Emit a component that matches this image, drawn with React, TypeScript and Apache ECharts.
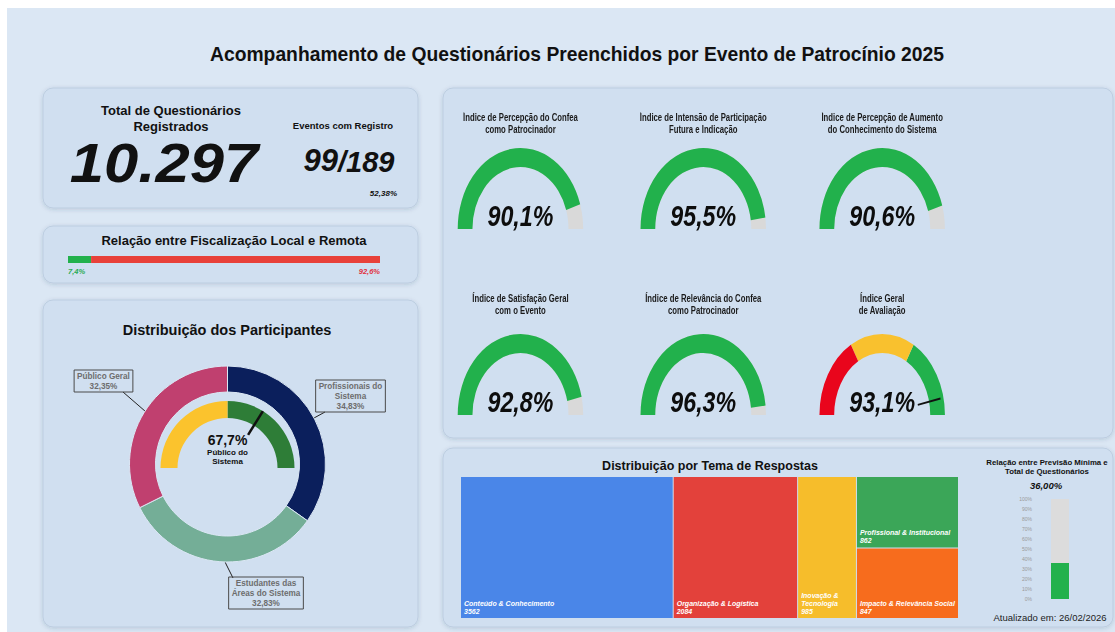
import React, { useEffect, useRef } from 'react';
import * as echarts from 'echarts';

// ---------------- DATA ----------------
const totalQuestionarios = 10297;
const eventosComRegistro = 99;
const eventosTotal = 189;

const fiscalizacaoNomes = ['Local', 'Remota'];
const fiscalizacaoValores = [7.4, 92.6];

const participantesNomes = ['Profissionais do Sistema', 'Estudantes das Áreas do Sistema', 'Público Geral'];
const participantesValores = [34.83, 32.83, 32.35];
const publicoSistemaNome = 'Público do\nSistema';
const publicoSistemaValor = 67.7;

const indicesNomes = [
  'Índice de Percepção do Confea\ncomo Patrocinador',
  'Índice de Intensão de Participação\nFutura e Indicação',
  'Índice de Percepção de Aumento\ndo Conhecimento do Sistema',
  'Índice de Satisfação Geral\ncom o Evento',
  'Índice de Relevância do Confea\ncomo Patrocinador',
  'Índice Geral\nde Avaliação',
];
const indicesValores = [90.1, 95.5, 90.6, 92.8, 96.3, 93.1];

const temasNomes = [
  'Conteúdo & Conhecimento',
  'Organização & Logística',
  'Inovação & Tecnologia',
  'Profissional & Institucional',
  'Impacto & Relevância Social',
];
const temasValores = [3562, 2084, 985, 862, 847];

const previsaoCategorias = ['Previsão Mínima'];
const previsaoValores = [0.36];
const atualizadoEm = '26/02/2026';

// ---------------- STYLE ----------------
const FONT = 'Liberation Sans, Arial, Helvetica, sans-serif';
const GREEN = '#22b14c';
const GRAY = '#d9d9d9';
const participantesCores = ['#0b1f5c', '#74ae97', '#c0406f'];
const temasCores = ['#4a86e8', '#e3413b', '#f6bd2b', '#3ba658', '#f76c1d'];

function fmtPct(v: number, d: number) {
  return v.toFixed(d).replace('.', ',') + '%';
}
function fmtMilhar(n: number) {
  return String(n).replace(/\B(?=(\d{3})+(?!\d))/g, '.');
}
function wrapName(name: string, max: number) {
  const words = name.split(' ');
  const lines: string[] = [];
  let cur = '';
  for (const w of words) {
    if (cur && (cur + ' ' + w).length > max) {
      lines.push(cur);
      cur = w;
    } else cur = cur ? cur + ' ' + w : w;
  }
  if (cur) lines.push(cur);
  return lines.join('\n');
}

const panel = (x: number, y: number, w: number, h: number) => ({
  type: 'rect',
  shape: { x, y, width: w, height: h, r: 10 },
  style: {
    fill: '#d0dff0',
    stroke: '#bccde1',
    lineWidth: 1,
    shadowBlur: 4,
    shadowColor: 'rgba(40,60,90,0.18)',
    shadowOffsetY: 1,
  },
});

const txt = (
  x: number,
  y: number,
  text: string,
  size: number,
  o: { weight?: string; italic?: boolean; color?: string; align?: string; lh?: number; sx?: number } = {}
) => ({
  type: 'text',
  x,
  y,
  scaleX: o.sx ?? 1,
  style: {
    text,
    fontSize: size,
    fontFamily: FONT,
    fontWeight: o.weight ?? 'bold',
    fontStyle: o.italic ? 'italic' : 'normal',
    fill: o.color ?? '#111',
    align: o.align ?? 'center',
    verticalAlign: 'middle',
    lineHeight: o.lh,
  },
});

// label anchor positions for the donut (layout only)
const pieLabelLayout = [
  { x: 350.5, y: 396, line: [[303, 423], [314, 418], [325, 412]] },
  { x: 266, y: 593, line: [[220, 550], [226, 564], [233, 578]] },
  { x: 103.5, y: 381, line: [[153, 418], [138, 405], [123, 392]] },
];

function buildMain(): any {
  const graphic: any[] = [
    { type: 'rect', shape: { x: 7, y: 8, width: 1108, height: 624 }, style: { fill: '#dbe7f4' } },
    panel(43, 88, 375, 120),
    panel(43, 226, 375, 57),
    panel(43, 300, 375, 327),
    panel(443, 88, 670, 350),
    panel(443, 448, 670, 179),
    txt(577, 54, 'Acompanhamento de Questionários Preenchidos por Evento de Patrocínio 2025', 19.3),
    txt(171, 118, 'Total de Questionários\nRegistrados', 13, { lh: 16 }),
    txt(164, 163, fmtMilhar(totalQuestionarios), 55, { italic: true, sx: 1.12 }),
    txt(343, 125, 'Eventos com Registro', 9.5),
    txt(338, 160, String(eventosComRegistro), 31, { italic: true, align: 'right' }),
    txt(338, 161.5, '/' + eventosTotal, 29, { italic: true, align: 'left' }),
    txt(397, 193, fmtPct((eventosComRegistro / eventosTotal) * 100, 2), 8, { italic: true, align: 'right' }),
    txt(234, 240, 'Relação entre Fiscalização Local e Remota', 13),
    txt(227, 330, 'Distribuição dos Participantes', 14.5),
    txt(710, 466, 'Distribuição por Tema de Respostas', 12.5),
    txt(1047, 467, 'Relação entre Previsão Mínima e\nTotal de Questionários', 7.8, { lh: 9 }),
    txt(1046, 485, fmtPct(previsaoValores[0] * 100, 2), 9.5, { italic: true }),
    txt(1050, 617, 'Atualizado em: ' + atualizadoEm, 9.5, { weight: 'normal', color: '#222' }),
  ];

  const treemapData: any[] = [0, 1, 2].map((i) => ({
    name: temasNomes[i],
    value: temasValores[i],
    itemStyle: { color: temasCores[i] },
  }));
  treemapData.push({
    name: '',
    label: { show: false },
    itemStyle: { borderWidth: 0, gapWidth: 1, borderColor: '#d0dff0' },
    children: [3, 4].map((i) => ({
      name: temasNomes[i],
      value: temasValores[i],
      itemStyle: { color: temasCores[i] },
    })),
  });

  const barLabel = {
    show: true,
    fontSize: 7.5,
    fontWeight: 'bold',
    fontStyle: 'italic',
    fontFamily: FONT,
    formatter: (p: any) => fmtPct(p.value, 1),
  };

  return {
    animation: false,
    textStyle: { fontFamily: FONT },
    graphic,
    grid: [
      { left: 68, top: 256, width: 312, height: 7 },
      { left: 1051, top: 499, width: 18, height: 100 },
    ],
    xAxis: [
      { type: 'value', gridIndex: 0, min: 0, max: 100, show: false },
      { type: 'category', gridIndex: 1, data: previsaoCategorias, show: false },
    ],
    yAxis: [
      { type: 'category', gridIndex: 0, data: ['Fiscalização'], show: false },
      {
        type: 'value',
        gridIndex: 1,
        min: 0,
        max: 1,
        interval: 0.1,
        axisLine: { show: false },
        axisTick: { show: false },
        splitLine: { show: false },
        axisLabel: {
          formatter: (v: number) => Math.round(v * 100) + '%',
          fontSize: 5,
          color: '#9a9a9a',
          margin: 19,
        },
      },
    ],
    series: [
      {
        type: 'bar',
        name: fiscalizacaoNomes[0],
        xAxisIndex: 0,
        yAxisIndex: 0,
        stack: 'f',
        barWidth: 7,
        data: [fiscalizacaoValores[0]],
        itemStyle: { color: GREEN },
        label: { ...barLabel, position: [0, 11], color: '#2bab55', align: 'left' },
        silent: true,
      },
      {
        type: 'bar',
        name: fiscalizacaoNomes[1],
        xAxisIndex: 0,
        yAxisIndex: 0,
        stack: 'f',
        barWidth: 7,
        data: [fiscalizacaoValores[1]],
        itemStyle: { color: '#e8413a' },
        label: { ...barLabel, position: ['100%', 11], color: '#e0303e', align: 'right' },
        silent: true,
      },
      {
        type: 'pie',
        center: [227.5, 464],
        radius: [72, 98],
        startAngle: 90,
        clockwise: true,
        avoidLabelOverlap: false,
        silent: true,
        data: participantesNomes.map((n, i) => ({
          name: n,
          value: participantesValores[i],
          itemStyle: { color: participantesCores[i] },
        })),
        itemStyle: { borderColor: '#dbe7f4', borderWidth: 1 },
        label: {
          show: true,
          position: 'outside',
          formatter: (p: any) => wrapName(p.name, 17) + '\n' + fmtPct(p.value, 2),
          fontSize: 8.2,
          fontWeight: 'bold',
          color: '#6d6d6d',
          lineHeight: 10,
          borderColor: '#4a4a4a',
          borderWidth: 1,
          padding: [1, 3],
          align: 'center',
        },
        labelLine: { show: true, lineStyle: { color: '#222', width: 1 } },
        labelLayout: (p: any) => {
          const a = pieLabelLayout[p.dataIndex];
          return { x: a.x, y: a.y, align: 'center', verticalAlign: 'middle', labelLinePoints: a.line };
        },
      },
      {
        type: 'gauge',
        center: [227.5, 468],
        radius: 67,
        startAngle: 180,
        endAngle: 0,
        min: 0,
        max: 100,
        silent: true,
        axisLine: { lineStyle: { width: 17, color: [[0.5, '#fbc32d'], [1, '#2e7d37']] } },
        pointer: { show: true, icon: 'rect', width: 2.5, length: 28, offsetCenter: [0, -39], itemStyle: { color: '#111' } },
        anchor: { show: false },
        axisTick: { show: false },
        splitLine: { show: false },
        axisLabel: { show: false },
        title: { offsetCenter: [0, -11], fontSize: 8, fontWeight: 'bold', color: '#111', lineHeight: 9 },
        detail: {
          offsetCenter: [0, -28],
          fontSize: 14,
          fontWeight: 'bold',
          color: '#111',
          formatter: (v: number) => fmtPct(v, 1),
        },
        data: [{ value: publicoSistemaValor, name: publicoSistemaNome }],
      },
      {
        type: 'treemap',
        left: 461,
        top: 477,
        width: 497,
        height: 141,
        roam: false,
        nodeClick: false,
        silent: true,
        sort: false,
        squareRatio: 1,
        breadcrumb: { show: false },
        itemStyle: { borderWidth: 0, gapWidth: 1, borderColor: '#d0dff0' },
        upperLabel: { show: false },
        label: {
          show: true,
          position: 'insideBottomLeft',
          distance: 3,
          padding: 0,
          formatter: '{b}\n{c}',
          color: '#fff',
          fontSize: 7,
          fontStyle: 'italic',
          fontWeight: 'bold',
          lineHeight: 8,
          overflow: 'break',
        },
        data: treemapData,
      },
      {
        type: 'bar',
        xAxisIndex: 1,
        yAxisIndex: 1,
        barWidth: 18,
        data: previsaoValores,
        showBackground: true,
        backgroundStyle: { color: '#dcdcdc' },
        itemStyle: { color: GREEN },
        silent: true,
      },
    ],
  };
}

// gauge overlay (stretched horizontally by SX via CSS)
const SX = 0.7746;
const gaugeCentersX = [100, 336, 567];
const gaugeCentersY = [141, 327];
const gaugeTitleOffset = [-105, -110.5];

function buildGauges(): any {
  const series = indicesValores.map((v, i) => {
    const row = Math.floor(i / 3);
    const col = i % 3;
    const last = i === 5;
    return {
      type: 'gauge',
      center: [gaugeCentersX[col], gaugeCentersY[row]],
      radius: 81,
      startAngle: 180,
      endAngle: 0,
      min: 0,
      max: 100,
      silent: true,
      axisLine: {
        lineStyle: {
          width: 19,
          color: last
            ? [[1 / 3, '#e9051c'], [2 / 3, '#f9c12e'], [1, GREEN]]
            : [[1, GRAY]],
        },
      },
      progress: { show: !last, width: 19, itemStyle: { color: GREEN } },
      pointer: last
        ? { show: true, icon: 'rect', width: 2, length: 30, offsetCenter: [0, -47], itemStyle: { color: '#111' } }
        : { show: false },
      anchor: { show: false },
      axisTick: { show: false },
      splitLine: { show: false },
      axisLabel: { show: false },
      title: {
        offsetCenter: [0, gaugeTitleOffset[row]],
        fontSize: 10,
        fontWeight: 'bold',
        color: '#1a1a1a',
        lineHeight: 12,
        fontFamily: FONT,
      },
      detail: {
        offsetCenter: [0, -13],
        fontSize: 30,
        fontWeight: 'bold',
        fontStyle: 'italic',
        color: '#0d0d0d',
        fontFamily: FONT,
        formatter: (val: number) => fmtPct(val, 1),
      },
      data: [{ value: v, name: indicesNomes[i] }],
    };
  });
  return { animation: false, textStyle: { fontFamily: FONT }, series };
}

export default function App() {
  const mainRef = useRef<HTMLDivElement>(null);
  const gaugeRef = useRef<HTMLDivElement>(null);
  useEffect(() => {
    const main = echarts.init(mainRef.current!, null, { renderer: 'svg' });
    main.setOption(buildMain());
    const g = echarts.init(gaugeRef.current!, null, { renderer: 'svg' });
    g.setOption(buildGauges());
    return () => {
      main.dispose();
      g.dispose();
    };
  }, []);
  return (
    <div style={{ position: 'absolute', left: 0, top: 0, width: 1115, height: 632, background: '#fff', overflow: 'hidden' }}>
      <div ref={mainRef} style={{ position: 'absolute', left: 0, top: 0, width: 1115, height: 632 }} />
      <div
        ref={gaugeRef}
        style={{
          position: 'absolute',
          left: 443,
          top: 88,
          width: Math.round(670 / SX),
          height: 350,
          transform: `scaleX(${SX})`,
          transformOrigin: '0 0',
        }}
      />
    </div>
  );
}
